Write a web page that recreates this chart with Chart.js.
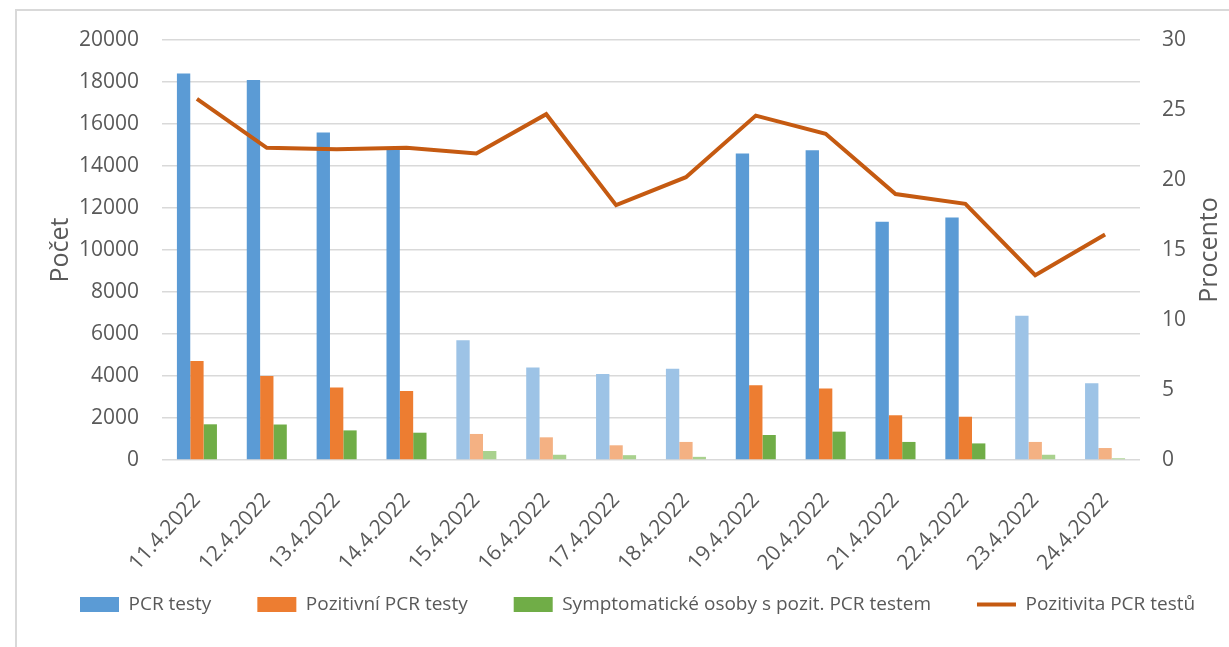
<!DOCTYPE html>
<html>
<head>
<meta charset="utf-8">
<script src="https://cdn.jsdelivr.net/npm/chart.js@4.4.0/dist/chart.umd.min.js"></script>
<style>
  body { margin: 0; background: #fff; overflow: hidden; }
  #ramecek { position: absolute; left: 15px; top: 9px; width: 1400px; height: 800px;
             border-top: 2px solid #d9d9d9; border-left: 2px solid #d9d9d9; }
  #graf { position: absolute; left: 0; top: 0; }
</style>
</head>
<body>
<div id="ramecek"></div>
<canvas id="graf" width="1229" height="647"></canvas>

<script>
var dny = ['11.4.2022','12.4.2022','13.4.2022','14.4.2022','15.4.2022','16.4.2022','17.4.2022',
           '18.4.2022','19.4.2022','20.4.2022','21.4.2022','22.4.2022','23.4.2022','24.4.2022']
// volne dny (svatky, vikend) maji svetlejsi sloupce
var volno = [0,0,0,0,1,1,1,1,0,0,0,0,1,1]

var pcrTesty = [18400,18100,15600,14800,5700,4400,4100,4350,14600,14750,11350,11550,6870,3650]
var pozitivni = [4720,4000,3450,3290,1240,1080,700,860,3560,3400,2130,2060,860,570]
var symptomaticke = [1700,1690,1410,1300,430,250,230,150,1190,1350,860,790,250,80]
var pozitivita = [25.8,22.3,22.2,22.3,21.9,24.7,18.2,20.2,24.6,23.3,19.0,18.3,13.2,16.1]

var ticksLeva = [0,2000,4000,6000,8000,10000,12000,14000,16000,18000,20000]
var ticksPrava = [0,5,10,15,20,25,30]
var titulekPrava = 'Procento'

function barvy(tmava, svetla) {
    return volno.map(function (v) { return v ? svetla : tmava })
}

var seda = '#595959'
Chart.defaults.font.family = "'Open Sans', sans-serif"
Chart.defaults.color = seda

// legenda ma byt nize a vic vlevo nez ji da layout
var posunLegendy = {
    id: 'posunLegendy',
    afterLayout: function (chart) {
        var l = chart.legend
        var dx = 34 - l.left
        var dy = 549 - l.top
        l.left += dx; l.right += dx
        l.top += dy; l.bottom += dy
    }
}

// chart.js toci titulek prave osy shora dolu, tady ma jit zdola nahoru
var titulekVpravo = {
    id: 'titulekVpravo',
    afterDraw: function (chart) {
        var c = chart.ctx
        var a = chart.chartArea
        c.save()
        c.translate(1210, (a.top + a.bottom) / 2)
        c.rotate(-Math.PI / 2)
        c.font = "25px 'Open Sans', sans-serif"
        c.fillStyle = seda
        c.textAlign = 'center'
        c.textBaseline = 'middle'
        c.fillText(titulekPrava, 0, 0)
        c.restore()
    }
}

var ctx = document.getElementById('graf').getContext('2d')

var chart = new Chart(ctx, {
    type: 'bar',
    data: {
        labels: dny,
        datasets: [{
            label: 'PCR testy',
            data: pcrTesty,
            backgroundColor: barvy('#5b9bd5', '#9dc3e6'),
            yAxisID: 'y',
            order: 1,
            pointStyle: 'rect'
        }, {
            label: 'Pozitivní PCR testy',
            data: pozitivni,
            backgroundColor: barvy('#ed7d31', '#f4b183'),
            yAxisID: 'y',
            order: 1,
            pointStyle: 'rect'
        }, {
            label: 'Symptomatické osoby s pozit. PCR testem',
            data: symptomaticke,
            backgroundColor: barvy('#70ad47', '#a9d18e'),
            yAxisID: 'y',
            order: 1,
            pointStyle: 'rect'
        }, {
            type: 'line',
            label: 'Pozitivita PCR testů',
            data: pozitivita,
            borderColor: '#c55a11',
            backgroundColor: '#c55a11',
            borderWidth: 4,
            pointRadius: 0,
            pointStyle: 'line',
            tension: 0,
            yAxisID: 'y1',
            order: 0
        }]
    },
    plugins: [posunLegendy, titulekVpravo],
    options: {
        responsive: false,
        animation: false,
        categoryPercentage: 0.573,
        barPercentage: 1.0,
        layout: { padding: { left: -40, right: 0, top: 40, bottom: 0 } },
        plugins: {
            tooltip: { enabled: false },
            legend: {
                position: 'bottom',
                align: 'start',
                labels: {
                    usePointStyle: true,
                    pointStyleWidth: 39,
                    boxHeight: 15,
                    padding: 46,
                    color: seda,
                    font: { size: 19 },
                    sort: function (a, b) { return a.datasetIndex - b.datasetIndex }
                }
            }
        },
        scales: {
            x: {
                grid: { display: false, drawTicks: false },
                border: { display: false },
                ticks: { maxRotation: 48, minRotation: 48, padding: 28, font: { size: 21 }, color: seda },
                afterFit: function (s) { s.height = 112 }
            },
            y: {
                position: 'left',
                min: 0, max: 20000,
                afterBuildTicks: function (s) { s.ticks = ticksLeva.map(function (v) { return { value: v } }) },
                grid: { color: '#d9d9d9', lineWidth: 1.5, drawTicks: false },
                border: { display: false },
                ticks: { padding: 23, font: { size: 21 }, color: seda, callback: function (v) { return String(v) } },
                title: { display: true, text: 'Počet', font: { size: 25 }, color: seda, padding: { top: 86, bottom: 0 } },
                afterFit: function (s) { s.width = 202 }
            },
            y1: {
                position: 'right',
                min: 0, max: 30,
                afterBuildTicks: function (s) { s.ticks = ticksPrava.map(function (v) { return { value: v } }) },
                grid: { display: false, drawTicks: false },
                border: { display: false },
                ticks: { padding: 22, font: { size: 21 }, color: seda, callback: function (v) { return String(v) } },
                afterFit: function (s) { s.width = 89 }
            }
        }
    }
})
</script>
</body>
</html>
